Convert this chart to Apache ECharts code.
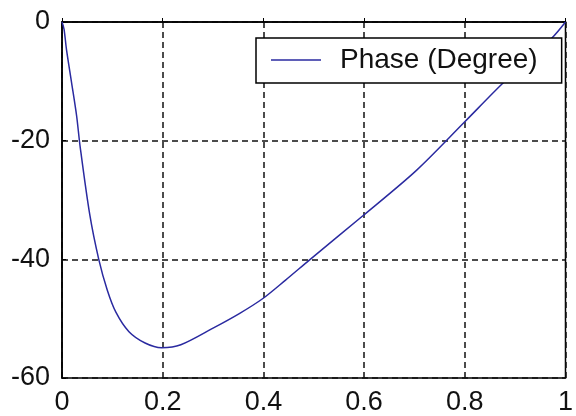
<!DOCTYPE html>
<html>
<head>
<meta charset="utf-8">
<style>
  html, body { margin: 0; padding: 0; background: #fff; }
  #chart { width: 576px; height: 416px; }
</style>
<script src="https://cdn.jsdelivr.net/npm/echarts@6/dist/echarts.min.js"></script>
</head>
<body>
<div id="chart"></div>
<script>
// Normalised frequency samples and the phase response (degrees) at each
var freq = [0, 0.004, 0.009, 0.019, 0.029, 0.036, 0.055, 0.073, 0.09,
            0.107, 0.133, 0.165, 0.198, 0.236, 0.30, 0.353, 0.399, 0.444, 0.493,
            0.597, 0.704, 0.799, 0.877, 0.973, 1.0];
var phase = [0, -1.2, -4.7, -10.2, -15.8, -21, -32.4, -40, -45.2,
             -48.9, -52.2, -54.1, -54.9, -54.4, -51.6, -49.1, -46.6, -43.5, -40,
             -32.7, -25, -16.9, -10.2, -2.7, 0];
var xTicks = [0, 0.2, 0.4, 0.6, 0.8, 1];
var yTicks = [-60, -40, -20, 0];
var seriesName = 'Phase (Degree)';

var FONT = '"Liberation Sans", Arial, sans-serif';
var LINE = '#2a2aa0';
var chart = echarts.init(document.getElementById('chart'), null, { renderer: 'canvas' });

var dashed = { show: true, lineStyle: { color: '#111', width: 1.5, type: [6, 4] } };

chart.setOption({
  backgroundColor: '#ffffff',
  animation: false,
  grid: {
    left: 62, top: 22, right: 1, bottom: 35,
    show: true, borderColor: '#000', borderWidth: 1.5, backgroundColor: '#fff'
  },
  legend: {
    show: true,
    data: [{ name: seriesName, icon: 'rect' }],
    left: 256, top: 38,
    orient: 'horizontal',
    backgroundColor: '#fff',
    borderColor: '#000', borderWidth: 1.5, borderRadius: 0,
    padding: [8, 24, 9, 15],
    itemWidth: 50, itemHeight: 1.5,
    itemGap: 0,
    itemStyle: { color: LINE, borderWidth: 0 },
    lineStyle: { width: 0 },
    textStyle: { fontFamily: FONT, fontSize: 28, color: '#111', padding: [0, 0, 0, 14] }
  },
  xAxis: {
    type: 'value', min: xTicks[0], max: xTicks[xTicks.length - 1], interval: 0.2,
    axisLine: { show: true, lineStyle: { color: '#000', width: 1.5 } },
    axisTick: { show: true, inside: true, length: 4, lineStyle: { color: '#000' } },
    axisLabel: {
      fontFamily: FONT, fontSize: 27, color: '#111', margin: 11,
      formatter: function (v) { return String(Math.round(v * 10) / 10); }
    },
    splitLine: dashed
  },
  yAxis: {
    type: 'value', min: yTicks[0], max: yTicks[yTicks.length - 1], interval: 20,
    axisLine: { show: true, lineStyle: { color: '#000', width: 1.5 } },
    axisTick: { show: true, inside: true, length: 4, lineStyle: { color: '#000' } },
    axisLabel: { fontFamily: FONT, fontSize: 27, color: '#111', margin: 12 },
    splitLine: dashed
  },
  series: [{
    name: seriesName,
    type: 'line',
    data: freq.map(function (f, i) { return [f, phase[i]]; }),
    showSymbol: false,
    smooth: 0.3,
    clip: true,
    lineStyle: { color: LINE, width: 1.5 },
    itemStyle: { color: LINE }
  }]
});
</script>
</body>
</html>
